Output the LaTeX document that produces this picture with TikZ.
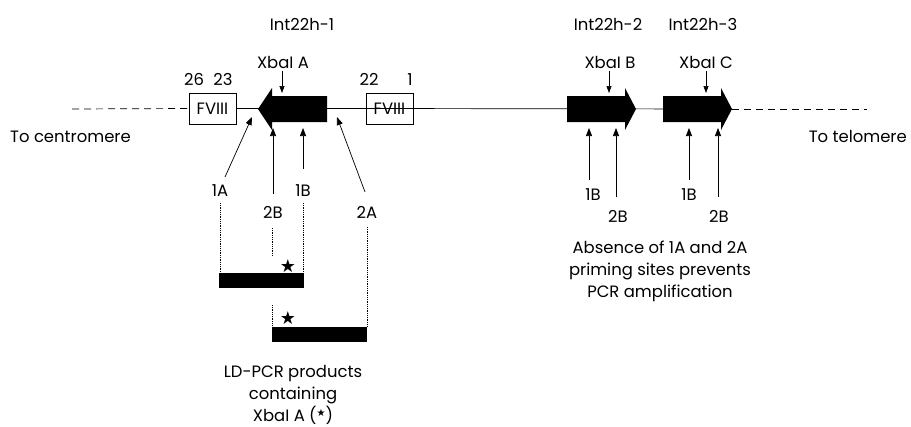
\documentclass[tikz,border=0pt]{standalone}
\usepackage{fontspec}
\setmainfont{Poppins}
\newfontfamily\starfont{DejaVu Sans}
\usetikzlibrary{arrows.meta}

\tikzset{
  txt/.style={inner sep=0pt, anchor=base},
  gene/.style={fill=black, draw=none},
  fviii/.style={draw, line width=0.7bp, minimum width=47bp, minimum height=31bp, inner sep=0pt},
  primer/.style={-{Triangle[length=8bp,width=6bp]}, line width=0.7bp},
  site/.style={-{Triangle[length=7bp,width=5bp]}, line width=0.7bp},
  guide/.style={densely dotted, line width=0.8bp},
  product/.style={fill=black},
}

\begin{document}
\begin{tikzpicture}[x=1bp, y=-1bp, font=\fontsize{16.5}{22}\selectfont]
  \useasboundingbox (0,0) rectangle (911,426);

  % chromosome
  \node[fviii] (fa) at (212.5,108.5) {FVIII};
  \node[fviii] (fb) at (389.5,108.5) {FVIII};
  \coordinate (cen) at (72,109);
  \coordinate (tel) at (867,109);
  \draw[dashed, dash pattern=on 7bp off 5bp, line width=0.7bp] (cen) -- (fa.west);
  \draw[line width=0.7bp] (fa.east) -- (fb.west) -- (732,109);
  \draw[dashed, dash pattern=on 7bp off 5bp, line width=0.7bp] (732,109) -- (tel);

  % int22h copies
  \fill[gene] (327,96) -- (272,96) -- (272,88) -- (258,109) -- (272,130) -- (272,122) -- (327,122) -- cycle;
  \fill[gene] (567,96) -- (625,96) -- (625,88) -- (636,109) -- (625,130) -- (625,122) -- (567,122) -- cycle;
  \fill[gene] (663,96) -- (721,96) -- (721,88) -- (732,109) -- (721,130) -- (721,122) -- (663,122) -- cycle;

  \node[txt] (h1) at (302,30) {Int22h-1};
  \node[txt] (h2) at (608,30) {Int22h-2};
  \node[txt] (h3) at (703,30) {Int22h-3};

  \node[txt] (xa) at (283,68) {XbaI A};
  \node[txt] (xb) at (610,68) {XbaI B};
  \node[txt] (xc) at (706,68) {XbaI C};
  \coordinate (ka) at (282,93);
  \coordinate (kb) at (609,93);
  \coordinate (kc) at (706,93);
  \draw[site, shorten <=3bp] (xa.south -| ka) -- (ka);
  \draw[site, shorten <=3bp] (xb.south -| kb) -- (kb);
  \draw[site, shorten <=3bp] (xc.south -| kc) -- (kc);

  \node[txt] (e26) at (194,85) {26};
  \node[txt] (e23) at (223,85) {23};
  \node[txt] (e22) at (369,85) {22};
  \node[txt] (e1) at (410,85) {1};

  \node[txt, anchor=base west] (tc) at (10,142) {To centromere};
  \node[txt, anchor=base east] (tt) at (907,142) {To telomere};

  % primers on int22h-1
  \node[txt] (p1A) at (220,196) {1A};
  \node[txt] (p2B) at (273,218) {2B};
  \node[txt] (p1B) at (303,196) {1B};
  \node[txt] (p2A) at (367,218) {2A};
  \coordinate (t1A) at (252,117);
  \coordinate (t2B) at (273,128);
  \coordinate (t1B) at (303,128);
  \coordinate (t2A) at (337,117);
  \draw[primer] (225,177) -- (t1A);
  \draw[primer] (p2B.north) ++(0,-12) -- (t2B);
  \draw[primer] (p1B.north) ++(0,-15) -- (t1B);
  \draw[primer] (365,192) -- (t2A);

  % primers on int22h-2 and int22h-3
  \node[txt] (q1B) at (593,200) {1B};
  \node[txt] (q2B) at (618,222) {2B};
  \node[txt] (r1B) at (689,200) {1B};
  \node[txt] (r2B) at (719,222) {2B};
  \draw[primer] (589,180) -- (589,128);
  \draw[primer] (616,197) -- (616,128);
  \draw[primer] (689,180) -- (689,128);
  \draw[primer] (718,197) -- (718,128);

  % LD-PCR products
  \fill[product] (219,273) rectangle (304,288);
  \fill[product] (272,327) rectangle (367,342);
  \draw[guide] (220,203) -- (220,273);
  \draw[guide] (303,203) -- (303,273);
  \draw[guide] (272,228) -- (272,255);
  \draw[guide] (272,305) -- (272,327);
  \draw[guide] (367,227) -- (367,327);
  \node[inner sep=0pt] (s1) at (288,266) {\starfont\fontsize{18}{18}\selectfont ★};
  \node[inner sep=0pt] (s2) at (288,318) {\starfont\fontsize{18}{18}\selectfont ★};

  \node[txt, align=center] (ld) at (293,421) {LD-PCR products\\containing\\XbaI A (\raisebox{0.45ex}{\starfont\fontsize{10}{10}\selectfont ★})};
  \node[txt, align=center] (ab) at (660,297) {Absence of 1A and 2A\\priming sites prevents\\PCR amplification};
\end{tikzpicture}
\end{document}
